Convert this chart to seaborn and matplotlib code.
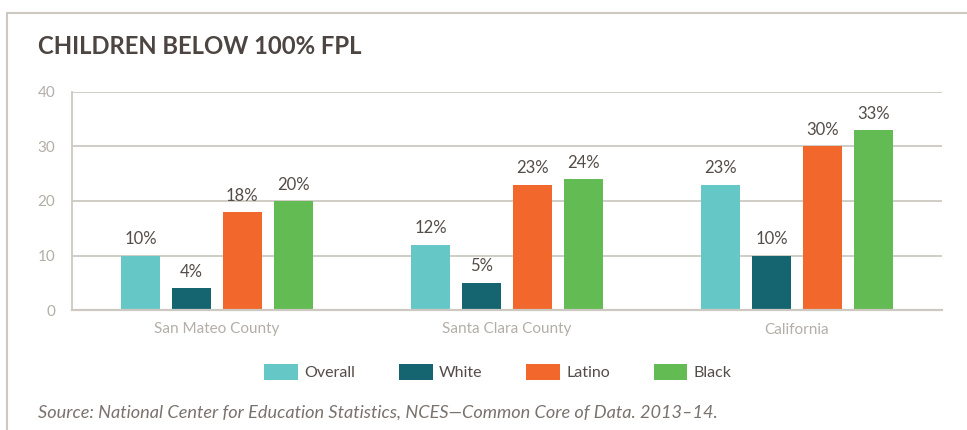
import matplotlib
matplotlib.use("Agg")
import matplotlib.pyplot as plt
from matplotlib.lines import Line2D
import seaborn as sns
import pandas as pd

regions = ["San Mateo County", "Santa Clara County", "California"]
groups = ["Overall", "White", "Latino", "Black"]
overall = [10, 12, 23]
white = [4, 5, 10]
latino = [18, 23, 30]
black = [20, 24, 33]
colors = ["#66c8c6", "#156570", "#f2672b", "#62bc53"]
yticks = [0, 10, 20, 30, 40]

rows = []
for g, vals in zip(groups, [overall, white, latino, black]):
    for r, v in zip(regions, vals):
        rows.append({"region": r, "group": g, "value": v})
df = pd.DataFrame(rows)

sns.set_theme(style="white")
plt.rcParams["font.family"] = ["Lato", "DejaVu Sans"]

grid_c = "#cdc9c2"
tick_c = "#b3aea8"
text_c = "#544c48"

fig = plt.figure(figsize=(9.67, 4.30), dpi=100)
ax = fig.add_axes([72/967, 1-310/430, (942-72)/967, (310-92)/430])

sns.barplot(data=df, x="region", y="value", hue="group", order=regions,
            hue_order=groups, palette=colors, width=0.7, gap=0.23,
            saturation=1, ax=ax, legend=True, errorbar=None, linewidth=0)

ax.set_ylim(0, 40)
ax.set_xlim(-0.5, 2.5)
ax.set_yticks(yticks)
ax.yaxis.grid(True, color=grid_c, linewidth=1.3)
ax.set_axisbelow(True)
for s in ["top", "right"]:
    ax.spines[s].set_visible(False)
ax.spines["left"].set_color(grid_c)
ax.spines["left"].set_linewidth(1.3)
ax.spines["bottom"].set_color(grid_c)
ax.spines["bottom"].set_linewidth(1.6)
ax.tick_params(axis="y", length=0, pad=12, labelcolor=tick_c, labelsize=11)
ax.tick_params(axis="x", length=0, pad=9, labelcolor=tick_c, labelsize=11)
ax.set_xlabel("")
ax.set_ylabel("")

for cont in ax.containers:
    ax.bar_label(cont, fmt="%d%%", padding=6, color=text_c, fontsize=12)

handles, labels = ax.get_legend_handles_labels()
ax.get_legend().remove()
fig.legend(handles, labels, loc="center", bbox_to_anchor=(498/967, 1-372/430),
           ncol=4, frameon=False, handlelength=2.1, handleheight=1.25,
           handletextpad=0.4, columnspacing=2.75, fontsize=11.5,
           labelcolor=text_c)

fig.text(38/967, 1-46/430, "CHILDREN BELOW 100% FPL", fontsize=17.2,
         fontweight="bold", color="#4d4541", va="center", ha="left")
fig.text(38/967, 1-413/430,
         "Source: National Center for Education Statistics, NCES\u2014Common Core of Data. 2013\u201314.",
         fontsize=13.1, style="italic", color="#7a726d", va="center", ha="left")

fig.add_artist(Line2D([7/967, 7/967], [0, 1-13/430], transform=fig.transFigure,
                      color=grid_c, linewidth=1.5))
fig.add_artist(Line2D([7/967, 1], [1-13/430, 1-13/430], transform=fig.transFigure,
                      color=grid_c, linewidth=1.5))

fig.savefig("out.png", dpi=100)
